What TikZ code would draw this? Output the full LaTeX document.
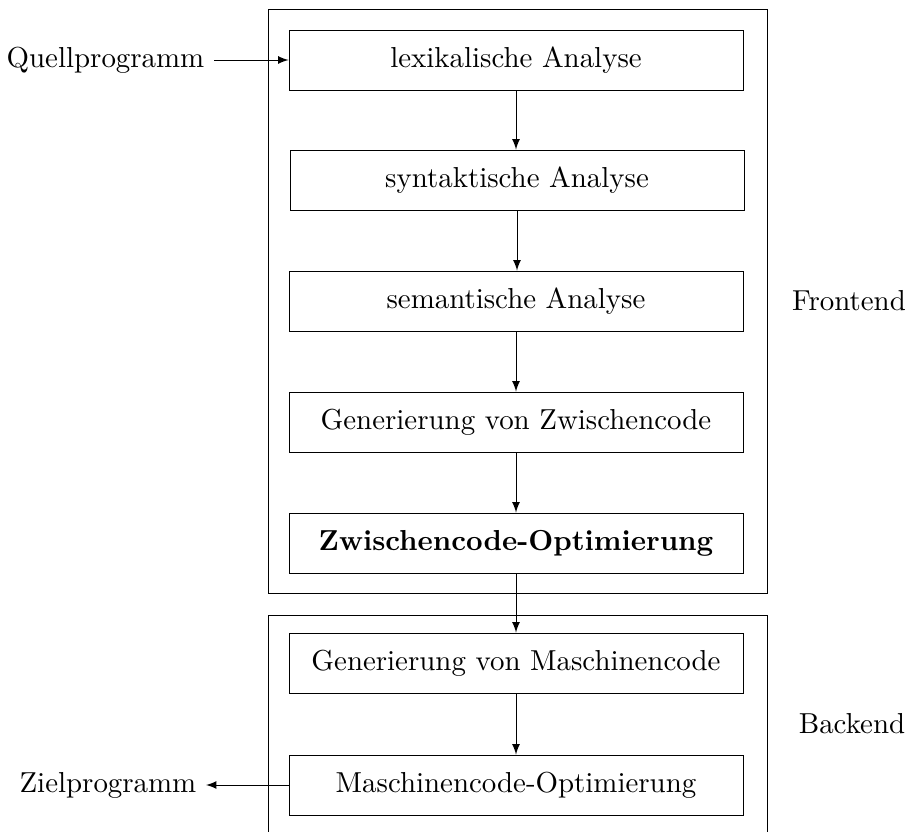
\documentclass[tikz,border=0pt]{standalone}
\begin{document}
\begin{tikzpicture}[x=0.36pt,y=-0.36pt, line width=0.32pt,
  every node/.style={font=\fontsize{10.4}{12.5}\selectfont},
  stage/.style={draw, minimum width=163.4pt, minimum height=21.6pt, inner sep=0pt},
  arr/.style={-{latex[scale=1.15]}},
  lbl/.style={inner sep=3.33pt}]
\useasboundingbox (0,0) rectangle (909,832);
% group frames
\draw (268,9) rectangle (767,593);
\draw (268,832) -- (268,615) -- (767,615) -- (767,832);
% stages
\node[stage] (lex)  at (516,60)  {lexikalische Analyse};
\node[stage] (syn)  at (517,180) {syntaktische Analyse};
\node[stage] (sem)  at (516,301) {semantische Analyse};
\node[stage] (gzw)  at (516,422) {Generierung von Zwischencode};
\node[stage] (zopt) at (516,543) {\textbf{Zwischencode-Optimierung}};
\node[stage] (gmc)  at (516,663) {Generierung von Maschinencode};
\node[stage] (mopt) at (516,785) {Maschinencode-Optimierung};
% labels
\node[lbl, anchor=east] (quell) at (214,60) {Quellprogramm};
\node[lbl, anchor=east] (ziel) at (206,785) {Zielprogramm};
\node[lbl] (front) at (849,301) {Frontend};
\node[lbl] (back) at (852,724) {Backend};
% connectors
\draw[arr] (quell.east) -- (lex.west);
\draw[arr] (lex) -- (lex |- syn.north);
\draw[arr] (syn) -- (syn |- sem.north);
\draw[arr] (sem) -- (gzw);
\draw[arr] (gzw) -- (zopt);
\draw[arr] (zopt) -- (gmc);
\draw[arr] (gmc) -- (mopt);
\draw[arr] (mopt.west) -- (ziel.east);
\end{tikzpicture}
\end{document}
